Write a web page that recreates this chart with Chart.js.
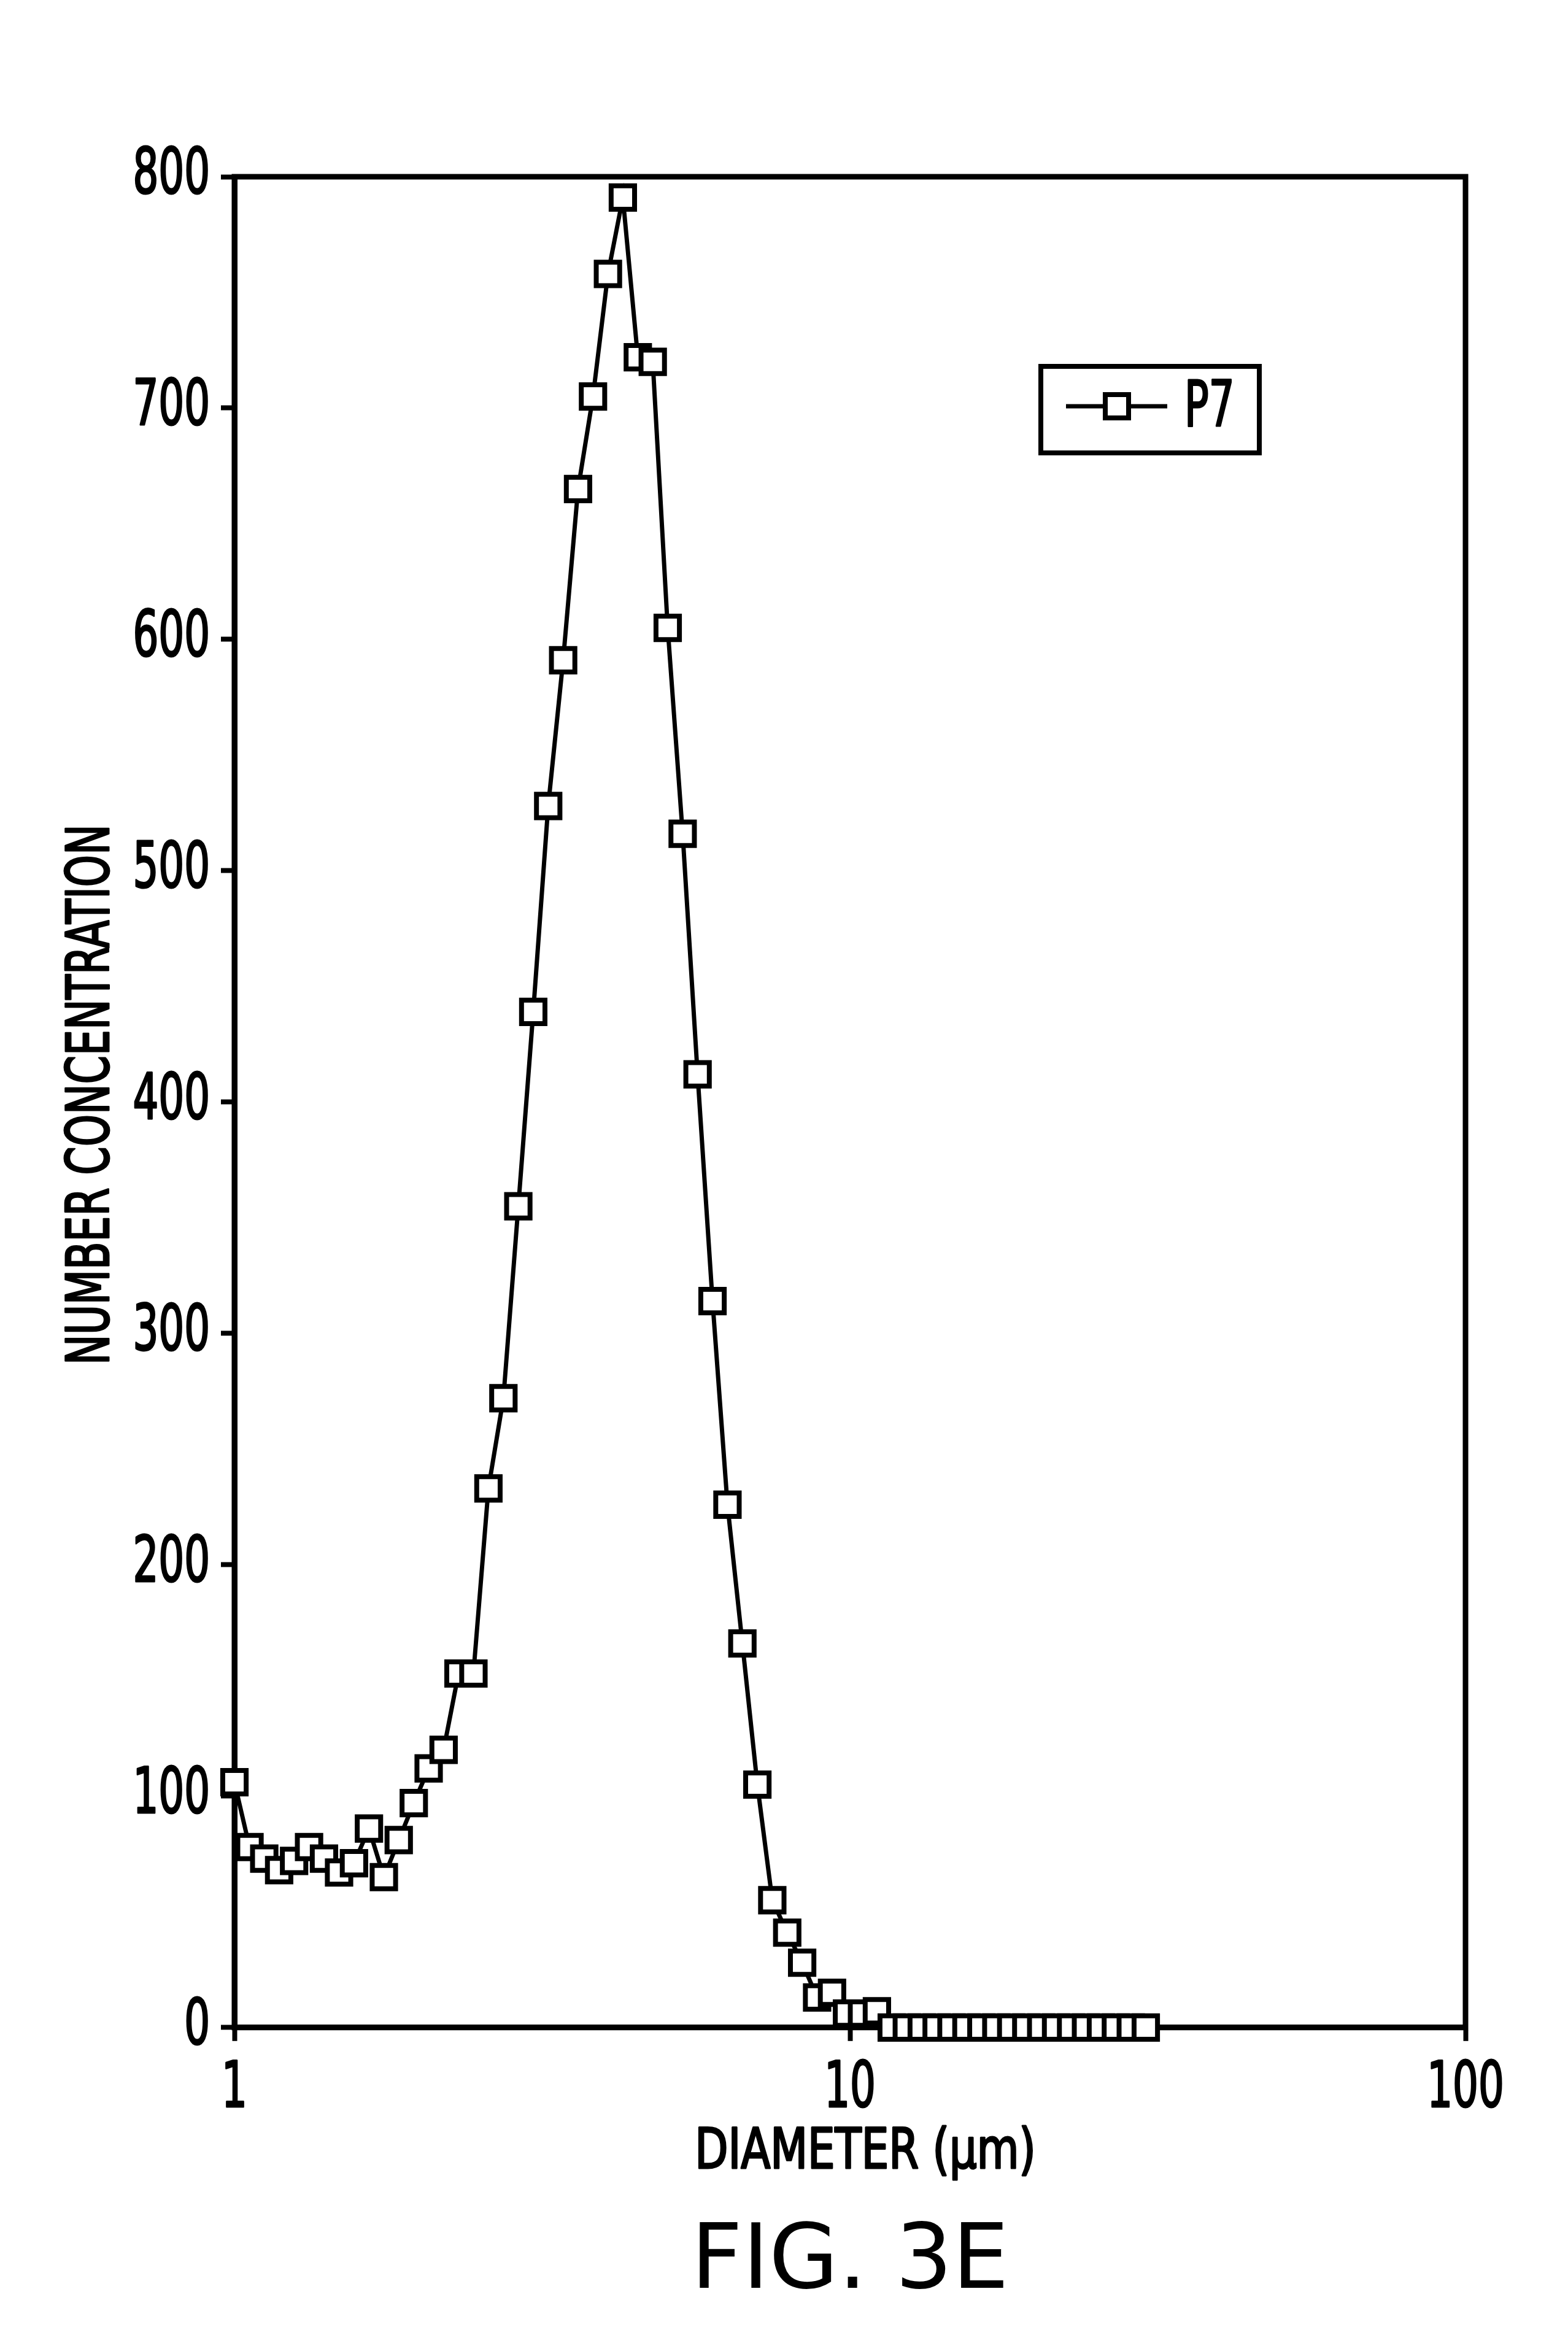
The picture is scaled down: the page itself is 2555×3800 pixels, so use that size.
<!DOCTYPE html>
<html>
<head>
<meta charset="utf-8">
<title>FIG. 3E</title>
<script src="https://cdn.jsdelivr.net/npm/chart.js@4.4.1/dist/chart.umd.min.js"></script>
<style>
  html, body { margin: 0; padding: 0; background: #fff; }
  canvas { display: block; }
</style>
</head>
<body>
<canvas id="fig" width="2555" height="3800"></canvas>
<script>
// diameters (um) of the plotted points
const diameters = [1.000, 1.058, 1.118, 1.182, 1.250, 1.322, 1.398, 1.479, 1.564, 1.654,
  1.749, 1.849, 1.956, 2.068, 2.187, 2.312, 2.445, 2.586, 2.735, 2.892,
  3.058, 3.234, 3.420, 3.616, 3.824, 4.044, 4.276, 4.522, 4.782, 5.057,
  5.348, 5.655, 5.980, 6.324, 6.687, 7.072, 7.478, 7.908, 8.362, 8.843,
  9.351, 9.889, 10.46, 11.06, 11.69, 12.37, 13.08, 13.83, 14.62, 15.46,
  16.35, 17.29, 18.28, 19.34, 20.45, 21.62, 22.87, 24.18, 25.57, 27.04,
  28.59, 30.24];

// number concentration of P7
const concentration = [106, 78, 73, 68, 72, 78, 73, 67, 71, 86,
  65, 81, 97, 112, 120, 153, 153, 233, 272, 355,
  439, 528, 591, 665, 705, 758, 791, 722, 720, 605,
  516, 412, 314, 226, 166, 105, 55, 41, 28, 13,
  15, 6, 6, 7, 0, 0, 0, 0, 0, 0,
  0, 0, 0, 0, 0, 0, 0, 0, 0, 0,
  0, 0];

const xTicks = [1, 10, 100];
const yTicks = [0, 100, 200, 300, 400, 500, 600, 700, 800];
const seriesName = 'P7';
const xTitle = 'DIAMETER (μm)';
const yTitle = 'NUMBER CONCENTRATION';

const narrow = "'DejaVu Sans Condensed', 'DejaVu Sans', sans-serif";

// the lettering of the figure is tall, narrow and heavy: squeeze it sideways
function narrowText(ctx, text, x, y, size, sx, align, upright) {
  ctx.save();
  ctx.translate(x, y);
  if (upright) ctx.rotate(-Math.PI / 2);
  ctx.scale(sx, 1);
  ctx.font = size + 'px ' + narrow;
  ctx.fillStyle = '#000';
  ctx.strokeStyle = '#000';
  ctx.lineWidth = 3;
  ctx.lineJoin = 'round';
  ctx.textAlign = align;
  ctx.textBaseline = 'middle';
  ctx.fillText(text, 0, 0);
  ctx.strokeText(text, 0, 0);
  ctx.restore();
}

// box round the plot, under the markers
const framePlugin = {
  id: 'frame',
  beforeDatasetsDraw(chart) {
    const ctx = chart.ctx;
    const a = chart.chartArea;
    ctx.save();
    ctx.strokeStyle = '#000';
    ctx.lineWidth = 9;
    ctx.strokeRect(a.left, a.top, a.right - a.left, a.bottom - a.top);
    ctx.restore();
  }
};

// tick labels and axis titles, placed from the chart's own scales
const axisText = {
  id: 'axisText',
  afterDraw(chart) {
    const ctx = chart.ctx;
    const a = chart.chartArea;
    const x = chart.scales.x;
    const y = chart.scales.y;
    x.ticks.forEach(t => narrowText(ctx, String(t.value), x.getPixelForValue(t.value), a.bottom + 102, 103, 0.71, 'center'));
    y.ticks.forEach(t => narrowText(ctx, String(t.value), a.left - 40, y.getPixelForValue(t.value), 103, 0.71, 'right'));
    narrowText(ctx, xTitle, (a.left + a.right) / 2 + 25, a.bottom + 206, 90, 0.87, 'center');
    narrowText(ctx, yTitle, 152, (a.top + a.bottom) / 2 - 12, 97, 0.76, 'center', true);
  }
};

// the boxed legend  -□- P7
const legendBox = {
  id: 'legendBox',
  afterDraw(chart) {
    const ctx = chart.ctx;
    const label = chart.data.datasets[0].label;
    ctx.save();
    ctx.strokeStyle = '#000';
    ctx.lineWidth = 8;
    ctx.strokeRect(1696, 597, 356, 141);
    ctx.lineWidth = 7;
    ctx.beginPath();
    ctx.moveTo(1737, 662);
    ctx.lineTo(1902, 662);
    ctx.stroke();
    ctx.fillStyle = '#fff';
    ctx.fillRect(1801, 643, 38, 38);
    ctx.lineWidth = 8;
    ctx.strokeRect(1801, 643, 38, 38);
    ctx.restore();
    narrowText(ctx, label, 1930, 667, 103, 0.71, 'left');
  }
};

const chart = new Chart(document.getElementById('fig'), {
  type: 'line',
  data: {
    datasets: [{
      label: seriesName,
      data: diameters.map((d, i) => ({ x: d, y: concentration[i] })),
      borderColor: '#000',
      borderWidth: 7,
      tension: 0,
      pointStyle: 'rect',
      pointRadius: 27,
      pointBorderWidth: 8,
      pointBackgroundColor: '#fff',
      pointBorderColor: '#000',
      clip: false
    }]
  },
  options: {
    responsive: false,
    animation: false,
    devicePixelRatio: 1,
    events: [],
    layout: { padding: { top: 288, right: 167, bottom: 22, left: 0 } },
    plugins: {
      legend: { display: false },
      tooltip: { enabled: false },
      title: {
        display: true,
        position: 'bottom',
        fullSize: false,
        text: 'FIG. 3E',
        color: '#000',
        font: { family: "'DejaVu Sans', sans-serif", size: 146, weight: 'normal' },
        padding: 0
      }
    },
    scales: {
      x: {
        type: 'logarithmic',
        min: 1,
        max: 100,
        afterBuildTicks: s => { s.ticks = xTicks.map(v => ({ value: v })); },
        afterFit: s => { s.height = 3800 - 22 - 175 - 3304; },
        ticks: { display: false },
        grid: { drawOnChartArea: false, drawTicks: true, tickLength: 22, tickWidth: 8, tickColor: '#000' },
        border: { display: true, width: 9, color: '#000' }
      },
      y: {
        min: 0,
        max: 800,
        afterBuildTicks: s => { s.ticks = yTicks.map(v => ({ value: v })); },
        afterFit: s => { s.width = 382; },
        ticks: { display: false },
        grid: { drawOnChartArea: false, drawTicks: true, tickLength: 22, tickWidth: 8, tickColor: '#000' },
        border: { display: true, width: 9, color: '#000' }
      }
    }
  },
  plugins: [framePlugin, axisText, legendBox]
});
</script>
</body>
</html>
